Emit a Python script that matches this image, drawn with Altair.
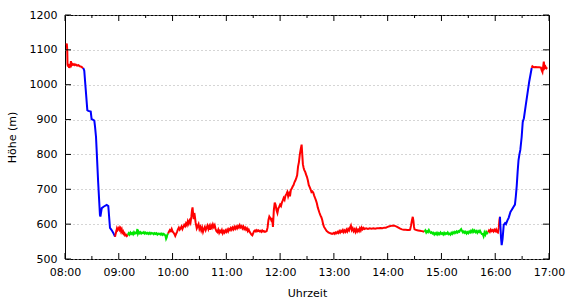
import json
import altair as alt
import pandas as pd

# ---- data (minutes after 08:00, height in m) ----
seg_colors = ["red", "blue", "red", "green", "red", "green", "red", "blue", "red"]

seg1 = [[1.5,1115],[2.0,1118],[2.5,1100],[2.8,1058],[3.3,1052],[4.0,1060],[4.6,1048],[5.3,1058],[6.0,1050],[6.6,1068],[7.2,1056],[8.0,1060],[9.0,1057],[10,1059],[11,1056],[12,1058],[13.5,1055],[15,1056],[16.5,1053],[18,1052],[19.5,1049],[20.4,1048]]
seg2 = [[20.4,1048],[21.5,1040],[23,990],[24.9,927],[26,925],[28.7,923],[29.7,901],[31,900],[32.7,897],[33.5,880],[34.6,850],[35.3,813],[37,720],[39,626],[39.5,622],[41,646],[43,650],[46.5,655],[48.3,652],[50.2,589],[52,583],[53.9,575],[55.8,564]]
seg3 = [[55.8,564],[56.5,572],[57.3,580],[58.0,588],[58.8,583],[59.5,586],[60.3,590],[61.0,584],[61.8,588],[62.5,580],[63.3,585],[64.0,576],[64.8,579],[65.5,572],[66.3,574],[67.0,568],[68.0,570],[69.0,566],[70.0,569]]
seg4 = [[70,569],[71,574],[72,570],[73,576],[74,572],[75,575],[76,571],[77,577],[78,573],[79,576],[80,574],[80.7,586],[81.4,573],[82.2,578],[83,574],[84,577],[85,573],[86,576],[87,574],[88,577],[89,573],[90,576],[91,573],[92,575],[93,572],[94,575],[95,572],[96,575],[97,573],[98,574],[99,571],[100,574],[101,572],[102,574],[103,570],[104,573],[105,571],[106,573],[107,570],[108,573],[109,569],[110,572],[111,570],[112,567],[112.8,558],[113.5,562],[114.2,570],[115,573]]
seg5 = [[115,573],[116,578],[117,583],[118,580],[119,586],[120,579],[121,576],[122,572],[123,566],[124,572],[125,578],[126,585],[127,590],[128,584],[129,588],[130,593],[131,586],[132,592],[133,598],[134,594],[135,602],[136,597],[137,608],[138,601],[139,610],[140,604],[141,622],[141.7,640],[142.3,648],[143,628],[143.6,614],[144.3,632],[145,620],[145.7,605],[146.4,596],[147,588],[148,594],[149,600],[150,586],[151,592],[152,582],[153,590],[154,578],[155,586],[156,592],[157,583],[158,590],[159,596],[160,586],[161,594],[162,584],[163,596],[164,590],[165,599],[166,592],[167,597],[168,586],[169,580],[170,577],[171,584],[172,575],[173,581],[174,577],[175,583],[176,574],[177,580],[178,576],[179,582],[180,578],[181,584],[182,579],[183,586],[184,583],[185,589],[186,584],[187,590],[188,585],[189,592],[190,587],[191,593],[192,588],[193,594],[194,590],[195,597],[196,591],[197,594],[198,588],[199,593],[200,586],[201,590],[202,584],[203,588],[204,580],[205,584],[206,578],[207,574],[208,570],[209,568],[210,574],[211,580],[212,582],[213,579],[214,583],[215,580],[216,582],[217,579],[218,581],[219,578],[220,582],[221,579],[222,580],[223,578],[224,579],[225,580],[226,590],[227,612],[228,622],[229,618],[230,612],[231,618],[232,592],[233,640],[234,662],[235,655],[236,640],[237,632],[238,645],[239,650],[240,656],[241,652],[242,662],[243,668],[244,675],[245,670],[246,682],[247,686],[248,692],[249,680],[250,688],[251,680],[252,698],[253,702],[254,708],[255,712],[256,720],[257,725],[258,732],[259,740],[260,765],[261,778],[262,800],[263,815],[264,828],[264.7,800],[265.4,772],[266.2,762],[267,755],[268,750],[269,742],[270,735],[271,725],[272,712],[273,706],[274,700],[275,692],[276,694],[277,690],[278,682],[279,675],[280,668],[281,660],[282,648],[283,640],[284,632],[285,625],[286,620],[287,612],[288,600],[289,592],[290,588],[291,584],[292,580],[293,578],[294,576],[295,575],[296,574],[297,573],[298,572],[299,573],[300,575],[301,572],[302,576],[303,574],[304,578],[305,575],[306,580],[307,576],[308,581],[309,578],[310,583],[311,577],[312,582],[313,578],[314,584],[315,579],[316,586],[317,582],[318,590],[319,596],[320,583],[321,588],[322,580],[323,585],[324,578],[325,586],[326,579],[327,584],[328,580],[329,588],[330,582],[331,590],[332,585],[333,589],[334,586],[336,588],[338,586],[340,588],[342,587],[344,588],[346,587],[348,588],[350,588],[352,589],[354,588],[356,590],[358,590],[360,592],[362,594],[364,595],[366,596],[368,595],[370,593],[372,590],[374,587],[376,585],[378,584],[380,584],[382,583],[384,583],[385,584],[386,595],[387,610],[388,621],[388.7,610],[389.4,592],[390,585],[392,583],[394,582],[396,581],[398,580],[400,579],[401,578]]
seg6 = [[401,578],[402,582],[403,576],[404,580],[405,577],[406,583],[407,578],[408,575],[409,577],[410,573],[411,575],[412,570],[413,574],[414,571],[415,575],[416,570],[417,574],[418,571],[419,576],[420,572],[421,574],[422,570],[423,575],[424,571],[425,574],[426,572],[427,576],[428,571],[429,573],[430,570],[431,575],[432,572],[433,577],[434,574],[435,578],[436,575],[437,579],[438,576],[439,580],[440,578],[441,583],[442,586],[443,580],[444,576],[445,579],[446,575],[447,578],[448,573],[449,577],[450,574],[451,579],[452,576],[453,581],[454,577],[455,583],[456,578],[457,582],[458,577],[459,580],[460,575],[461,580],[462,577],[463,581],[464,576],[465,572],[466,572],[467,565],[468,576],[469,570],[470,578],[471,574],[472,577]]
seg7 = [[472,577],[473,582],[474,578],[475,584],[476,580],[477,583],[478,579],[479,584],[480,580],[481,585],[482,578],[483,576],[484,590],[484.7,612],[485.3,621]]
seg8 = [[485.3,621],[485.7,598],[486.5,560],[487.2,540],[488.2,558],[489.5,598],[491,603],[492,600],[493.5,610],[495,618],[497,635],[498.5,641],[500,648],[502,656],[503,680],[504,710],[505,750],[506,784],[507,800],[508,813],[509.5,850],[510.7,893],[512,904],[514,940],[516,975],[518,1010],[520.7,1048]]
seg9 = [[520.7,1048],[521.5,1053],[523,1050],[525,1051],[527,1050],[529,1050],[531,1049],[532,1040],[532.7,1036],[533.3,1048],[534.2,1066],[535,1048],[536,1052],[537,1047],[538,1050]]

segments = [seg1, seg2, seg3, seg4, seg5, seg6, seg7, seg8, seg9]

x_tick_labels = ["08:00", "09:00", "10:00", "11:00", "12:00", "13:00", "14:00", "15:00", "16:00", "17:00"]
x_major = [0, 60, 120, 180, 240, 300, 360, 420, 480, 540]
x_minor = [30, 90, 150, 210, 270, 330, 390, 450, 510]
y_major = [500, 600, 700, 800, 900, 1000, 1100, 1200]

color_domain = ["red", "blue", "green"]
color_range = ["#ff0000", "#0000ff", "#00e600"]

rows = []
for i, (seg, c) in enumerate(zip(segments, seg_colors)):
    for m, h in seg:
        rows.append({"m": m, "h": h, "c": c, "seg": i})
df = pd.DataFrame(rows)

W, H = 484, 244
FONT = "DejaVu Sans"

xscale = alt.Scale(domain=[0, 540], nice=False, zero=False)
yscale = alt.Scale(domain=[500, 1200], nice=False, zero=False)

label_expr = f"{json.dumps(x_tick_labels)}[round(datum.value/60)]"

x_axis = alt.Axis(values=x_major, labelExpr=label_expr, title="Uhrzeit",
                  grid=False, domain=False, ticks=False, labelPadding=7,
                  labelFont=FONT, labelFontSize=11, labelColor="black",
                  titleFont=FONT, titleFontSize=11, titleFontWeight="normal",
                  titleColor="black", titleX=W / 2, titleY=34,
                  titleBaseline="middle", labelFlush=False)
y_axis = alt.Axis(values=y_major, format="d", title="Höhe (m)", grid=True,
                  gridDash=[1, 3], gridColor="#aaaaaa", gridWidth=1,
                  domain=False, ticks=False, labelPadding=8,
                  labelFont=FONT, labelFontSize=11, labelColor="black",
                  titleFont=FONT, titleFontSize=11, titleFontWeight="normal",
                  titleColor="black", titleX=-53, titleY=H / 2,
                  titleAngle=270, titleAlign="center", titleBaseline="middle",
                  labelFlush=False)

main = alt.Chart(df).mark_line(strokeWidth=2, clip=True).encode(
    x=alt.X("m:Q", scale=xscale, axis=x_axis),
    y=alt.Y("h:Q", scale=yscale, axis=y_axis),
    color=alt.Color("c:N", scale=alt.Scale(domain=color_domain, range=color_range), legend=None),
    detail="seg:N",
    order="m:Q",
)

df_xmaj = pd.DataFrame({"m": x_major})
df_xmin = pd.DataFrame({"m": x_minor})
df_ymaj = pd.DataFrame({"h": y_major})

def xticks(d, y0, y1):
    return alt.Chart(d).mark_rule(color="black", strokeWidth=1).encode(
        x=alt.X("m:Q", scale=xscale, axis=x_axis), y=alt.value(y0), y2=alt.value(y1))

def yticks(x0, x1):
    return alt.Chart(df_ymaj).mark_rule(color="black", strokeWidth=1).encode(
        y=alt.Y("h:Q", scale=yscale, axis=y_axis), x=alt.value(x0), x2=alt.value(x1))

layers = [
    main,
    xticks(df_xmaj, H, H - 6), xticks(df_xmin, H, H - 3),
    xticks(df_xmaj, 0, 6), xticks(df_xmin, 0, 3),
    yticks(0, 6), yticks(W, W - 6),
]

chart = alt.layer(*layers).properties(
    width=W, height=H,
    autosize=alt.AutoSizeParams(type="none"),
    padding={"left": 65, "top": 15, "right": 21, "bottom": 41},
    background="white",
).configure_view(stroke="black", strokeWidth=1)

chart.save("out.html", embed_options={"renderer": "svg", "actions": False})
